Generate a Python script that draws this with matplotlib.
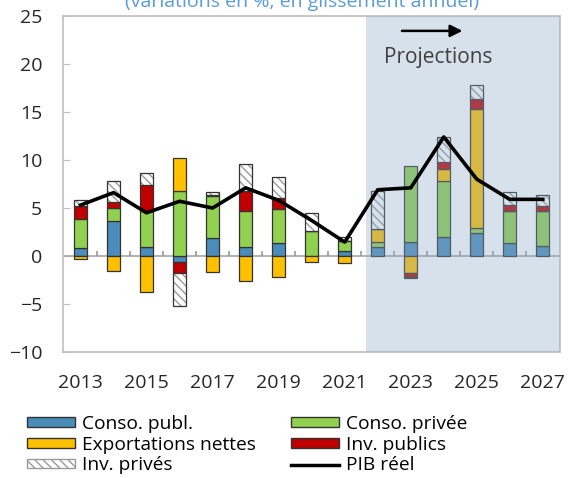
import matplotlib
matplotlib.use("Agg")
import matplotlib.pyplot as plt
from matplotlib.patches import Patch, Rectangle
from matplotlib.lines import Line2D
import numpy as np

plt.rcParams['font.family'] = ['Open Sans', 'DejaVu Sans']

years = list(range(2013, 2028))
xtick_years = [2013, 2015, 2017, 2019, 2021, 2023, 2025, 2027]
yticks = [-10, -5, 0, 5, 10, 15, 20, 25]

conso_publ = [0.8, 3.6, 0.9, -0.6, 1.9, 0.9, 1.4, 0.0, 0.5, 0.9, 1.5, 2.0, 2.4, 1.4, 1.0]
conso_privee = [3.1, 1.4, 3.8, 6.8, 4.4, 3.8, 3.5, 2.6, 1.05, 0.6, 7.9, 5.8, 0.5, 3.3, 3.7]
export_nettes = [-0.3, -1.6, -3.7, 3.4, -1.7, -2.6, -2.2, -0.65, -0.7, 1.3, -1.8, 1.3, 12.4, 0.0, 0.0]
inv_publics = [1.3, 0.6, 2.7, -1.2, 0.1, 2.1, 1.1, 0.05, 0.0, 0.0, -0.4, 0.7, 1.1, 0.6, 0.5]
inv_prives = [0.6, 2.2, 1.2, -3.4, 0.3, 2.8, 2.2, 1.8, 0.45, 4.0, -0.1, 2.6, 1.4, 1.4, 1.2]
pib_reel = [5.3, 6.6, 4.5, 5.7, 5.0, 7.1, 5.8, 3.7, 1.45, 6.9, 7.1, 12.4, 8.0, 5.9, 5.9]

labels = ['Conso. publ.', 'Conso. privée', 'Exportations nettes', 'Inv. publics', 'Inv. privés', 'PIB réel']
colors = ['#4A8CBA', '#92D050', '#FFC000', '#C00000', 'none']
proj_start = 2021.64

fig = plt.figure(figsize=(5.7, 4.78), dpi=100)
ax = fig.add_axes([63/570, 1-352/478, (560-63)/570, (352-16)/478])

x = np.array(years, dtype=float)
w = 0.4
pos_bottom = np.zeros(len(x))
neg_bottom = np.zeros(len(x))
series = [conso_publ, conso_privee, export_nettes, inv_publics, inv_prives]
for i, (vals, col) in enumerate(zip(series, colors)):
    v = np.array(vals, dtype=float)
    bottoms = np.where(v >= 0, pos_bottom, neg_bottom)
    if col == 'none':
        ax.bar(x, v, w, bottom=bottoms, color='white', edgecolor='#9A9A9A',
               hatch='\\\\\\\\', linewidth=0, zorder=3)
        ax.bar(x, v, w, bottom=bottoms, facecolor='none', edgecolor='#333333',
               linewidth=0.9, zorder=3)
    else:
        ax.bar(x, v, w, bottom=bottoms, color=col, edgecolor='#333333',
               linewidth=0.9, zorder=3)
    pos_bottom = pos_bottom + np.where(v >= 0, v, 0)
    neg_bottom = neg_bottom + np.where(v < 0, v, 0)

ax.set_xlim(2012.47, 2027.52)
ax.set_ylim(-10, 25)

# zero line and small category ticks
ax.axhline(0, color='#A6A6A6', linewidth=1.2, zorder=2)
half = x[:-1] + 0.5
ax.vlines(half, 0, 0.55, color='#9A9A9A', linewidth=1.2, zorder=2.5)

# projection shading (over bars)
ax.add_patch(Rectangle((proj_start, -10), 2027.52 - proj_start, 35,
                       facecolor='#8CAAC8', alpha=0.35, edgecolor='none', zorder=4))

ax.plot(x, pib_reel, color='black', linewidth=2.6, zorder=5)

ax.annotate('', xy=(2024.65, 23.45), xytext=(2022.65, 23.45),
            arrowprops=dict(arrowstyle='-|>', color='black', lw=1.8, mutation_scale=18), zorder=6)
ax.text(2023.83, 20.7, 'Projections', ha='center', va='center', fontsize=15, color='#404040', zorder=6)

for s in ax.spines.values():
    s.set_color('#BFBFBF')
    s.set_linewidth(1.2)

ax.set_xticks(xtick_years)
ax.set_xticklabels([str(y) for y in xtick_years])
ax.set_yticks(yticks)
ax.tick_params(axis='x', length=0, pad=16, labelsize=14, colors='#262626')
ax.tick_params(axis='y', direction='in', length=5, color='#BFBFBF', pad=15, labelsize=14, labelcolor='#262626')

fig.text(302/570, 1-7/478, '(variations en %, en glissement annuel)', ha='center', va='baseline',
         fontsize=14, color='#5B9BD5')

handles = [
    Patch(facecolor=colors[0], edgecolor='#333333', label=labels[0]),
    Patch(facecolor=colors[2], edgecolor='#333333', label=labels[2]),
    Patch(facecolor='white', edgecolor='#9A9A9A', hatch='\\\\\\\\', label=labels[4]),
    Patch(facecolor=colors[1], edgecolor='#333333', label=labels[1]),
    Patch(facecolor=colors[3], edgecolor='#333333', label=labels[3]),
    Line2D([], [], color='black', linewidth=2.5, label=labels[5]),
]
fig.legend(handles=handles, ncol=2, loc='upper left', bbox_to_anchor=(27/570, 1-415/478),
           frameon=False, fontsize=13.8, handlelength=2.5, handleheight=0.4,
           labelspacing=0.14, columnspacing=1.85, handletextpad=0.35, borderpad=0, borderaxespad=0)

fig.savefig('out.png', dpi=100)
